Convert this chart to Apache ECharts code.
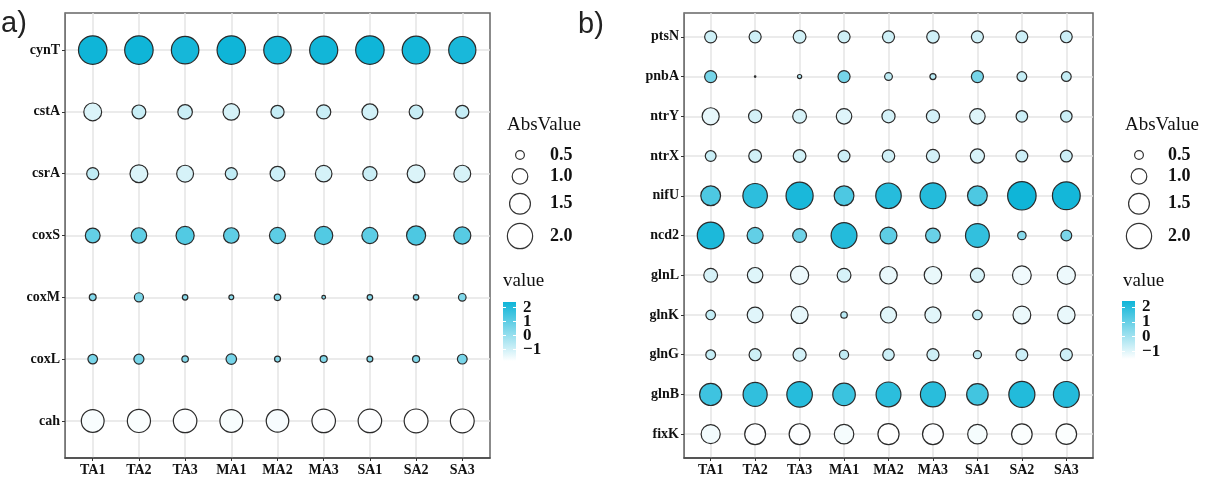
<!DOCTYPE html>
<html><head><meta charset="utf-8">
<script src="https://cdn.jsdelivr.net/npm/echarts@6/dist/echarts.min.js"></script>
<style>html,body{margin:0;padding:0;background:#fff}#c{width:1216px;height:477px}</style>
</head><body><div id="c"></div>
<script>
// ---------- data ----------
const samples = ['TA1','TA2','TA3','MA1','MA2','MA3','SA1','SA2','SA3'];

// panel a) rows, top to bottom
const genesA = ['cynT','cstA','csrA','coxS','coxM','coxL','cah'];
const cynT = [2.41, 2.41, 2.28, 2.41, 2.28, 2.36, 2.41, 2.32, 2.24];
const cstA = [-1.20, -0.85, -0.91, -1.08, -0.80, -0.88, -1.02, -0.85, -0.80];
const csrA = [-0.72, -1.20, -1.11, -0.72, -0.93, -1.08, -0.88, -1.20, -1.11];
const coxS = [0.93, 0.99, 1.23, 0.99, 1.04, 1.23, 1.04, 1.32, 1.13];
const coxM = [0.39, 0.52, 0.32, 0.29, 0.37, 0.24, 0.32, 0.32, 0.43];
const coxL = [0.55, 0.58, 0.37, 0.61, 0.34, 0.40, 0.34, 0.40, 0.56];
const cah  = [-1.71, -1.75, -1.79, -1.71, -1.68, -1.79, -1.79, -1.83, -1.83];
const valuesA = [cynT, cstA, csrA, coxS, coxM, coxL, cah];

// panel b) rows, top to bottom
const genesB = ['ptsN','pnbA','ntrY','ntrX','nifU','ncd2','glnL','glnK','glnG','glnB','fixK'];
const ptsN = [-0.72, -0.72, -0.77, -0.72, -0.72, -0.75, -0.72, -0.70, -0.70];
const pnbA = [0.72, -0.13, -0.26, 0.72, -0.44, -0.35, 0.72, -0.56, -0.56];
const ntrY = [-1.13, -0.80, -0.85, -0.99, -0.80, -0.80, -0.99, -0.68, -0.68];
const ntrX = [-0.63, -0.77, -0.77, -0.70, -0.75, -0.80, -0.88, -0.70, -0.70];
const nifU = [1.39, 1.91, 2.23, 1.39, 2.03, 2.07, 1.39, 2.41, 2.32];
const ncd2 = [2.19, 1.04, 0.85, 2.07, 1.11, 0.93, 1.83, 0.48, 0.63];
const glnL = [-0.85, -0.99, -1.23, -0.85, -1.17, -1.17, -0.88, -1.29, -1.23];
const glnK = [-0.55, -1.02, -1.13, -0.37, -1.04, -1.04, -0.55, -1.20, -1.17];
const glnG = [-0.56, -0.72, -0.80, -0.52, -0.68, -0.72, -0.46, -0.70, -0.72];
const glnB = [1.64, 1.86, 2.03, 1.68, 1.95, 1.98, 1.57, 2.10, 2.07];
const fixK = [-1.32, -1.50, -1.50, -1.36, -1.53, -1.50, -1.36, -1.47, -1.47];
const valuesB = [ptsN, pnbA, ntrY, ntrX, nifU, ncd2, glnL, glnK, glnG, glnB, fixK];

// legend breaks
const sizeBreaks = [0.5, 1.0, 1.5, 2.0];
const colorTicks = [-1, 0, 1, 2];
const lowColor = '#FFFFFF';
const highColor = '#0FB5D8';

// ---------- helpers ----------
function diam(a) { return Math.max(1.5, 23.3 * Math.sqrt(a) - 6.5 - 1.2); }
function buildData(genes, vals) {
  const out = [];
  genes.forEach((g, i) => {
    const y = genes.length - 1 - i;
    vals[i].forEach((v, j) => out.push([j, y, v]));
  });
  return out;
}
const dataA = buildData(genesA, valuesA);
const dataB = buildData(genesB, valuesB);
const flatA = valuesA.flat(), flatB = valuesB.flat();
const cminA = Math.min(...flatA), cmaxA = Math.max(...flatA);
const cminB = Math.min(...flatB), cmaxB = Math.max(...flatB);

const serif = 'Liberation Serif';
const idx = samples.map((s, i) => i);

function panelX(gi) {
  return {
    type: 'value', gridIndex: gi, min: -0.6, max: samples.length - 1 + 0.6,
    axisLine: { show: true, onZero: false, lineStyle: { color: '#444', width: 1.5 } },
    axisTick: { show: true, length: 3, customValues: idx, lineStyle: { color: '#333' } },
    axisLabel: { customValues: idx, margin: 5, hideOverlap: false, formatter: v => samples[Math.round(v)],
      fontFamily: serif, fontWeight: 'bold', fontSize: 14, color: '#111' },
    splitLine: { show: true, lineStyle: { color: '#E4E4E4', width: 1.5 } }
  };
}
function panelY(gi, genes) {
  const yi = genes.map((g, i) => i);
  return {
    type: 'value', gridIndex: gi, min: -0.6, max: genes.length - 1 + 0.6,
    axisLine: { show: true, onZero: false, lineStyle: { color: '#777', width: 1 } },
    axisTick: { show: true, length: 3, customValues: yi, lineStyle: { color: '#333' } },
    axisLabel: { customValues: yi, margin: 5, hideOverlap: false, formatter: v => genes[genes.length - 1 - Math.round(v)],
      fontFamily: serif, fontWeight: 'bold', fontSize: 14, color: '#111' },
    splitLine: { show: true, lineStyle: { color: '#E4E4E4', width: 1.5 } }
  };
}
// colour-bar axis; labels split over two axes so none are dropped for overlap
function cbarY(gi, mn, mx, pos, labelVals) {
  return {
    type: 'value', gridIndex: gi, min: mn, max: mx, position: pos,
    axisLine: { show: false, onZero: false }, splitLine: { show: false },
    axisTick: { show: true, inside: true, length: 3, customValues: colorTicks,
      lineStyle: { color: '#FFFFFF', width: 1 } },
    axisLabel: { show: !!labelVals, customValues: labelVals || colorTicks, margin: 7, hideOverlap: false,
      formatter: v => v < 0 ? '\u2212' + Math.abs(v) : String(v),
      fontFamily: serif, fontWeight: 'bold', fontSize: 17, color: '#111' }
  };
}
const labelsEven = colorTicks.filter((t, i) => i % 2 === 1);
const labelsOdd = colorTicks.filter((t, i) => i % 2 === 0);
function grad() {
  return new echarts.graphic.LinearGradient(0, 1, 0, 0, [
    { offset: 0, color: lowColor }, { offset: 1, color: highColor }
  ]);
}
function sizeLegend(titleX, cx, labelX, firstY) {
  const els = [{ type: 'text', left: titleX, top: 127 - 11,
    style: { text: 'AbsValue', font: 'normal 19px "Liberation Serif"', fill: '#111' } }];
  let y = firstY, prevK = null;
  sizeBreaks.forEach(b => {
    const d = diam(b);
    const k = d + 1.2 + 8;
    if (prevK !== null) y += (prevK + k) / 2;
    prevK = k;
    els.push({ type: 'circle', shape: { cx: cx, cy: y, r: d / 2 },
      style: { fill: '#fff', stroke: '#333', lineWidth: 1.2 } });
    els.push({ type: 'text', x: labelX, y: y,
      style: { text: b.toFixed(1), font: 'bold 18px "Liberation Serif"', fill: '#111',
        verticalAlign: 'middle', align: 'left' } });
  });
  return els;
}

const chart = echarts.init(document.getElementById('c'));
chart.setOption({
  animation: false,
  backgroundColor: '#fff',
  grid: [
    { left: 65, top: 13, width: 425, height: 450, show: true, backgroundColor: '#fff', borderColor: '#666', borderWidth: 1.5 },
    { left: 684, top: 13, width: 409, height: 449, show: true, backgroundColor: '#fff', borderColor: '#666', borderWidth: 1.5 },
    { left: 503, top: 302, width: 13, height: 59, show: true, backgroundColor: grad(), borderWidth: 0 },
    { left: 1122, top: 301, width: 13, height: 58, show: true, backgroundColor: grad(), borderWidth: 0 }
  ],
  xAxis: [
    panelX(0), panelX(1),
    { type: 'value', gridIndex: 2, show: false, min: 0, max: 1 },
    { type: 'value', gridIndex: 3, show: false, min: 0, max: 1 }
  ],
  yAxis: [
    panelY(0, genesA), panelY(1, genesB),
    cbarY(2, cminA, cmaxA, 'left', null), cbarY(2, cminA, cmaxA, 'right', labelsEven), cbarY(2, cminA, cmaxA, 'right', labelsOdd),
    cbarY(3, cminB, cmaxB, 'left', null), cbarY(3, cminB, cmaxB, 'right', labelsEven), cbarY(3, cminB, cmaxB, 'right', labelsOdd)
  ],
  visualMap: [
    { show: false, type: 'continuous', seriesIndex: 0, dimension: 2, min: cminA, max: cmaxA,
      inRange: { color: [lowColor, highColor] } },
    { show: false, type: 'continuous', seriesIndex: 1, dimension: 2, min: cminB, max: cmaxB,
      inRange: { color: [lowColor, highColor] } }
  ],
  series: [
    { type: 'scatter', xAxisIndex: 0, yAxisIndex: 0, data: dataA,
      symbolSize: v => diam(Math.abs(v[2])),
      itemStyle: { borderColor: '#2a2a2a', borderWidth: 1.2, opacity: 1 } },
    { type: 'scatter', xAxisIndex: 1, yAxisIndex: 1, data: dataB,
      symbolSize: v => diam(Math.abs(v[2])),
      itemStyle: { borderColor: '#2a2a2a', borderWidth: 1.2, opacity: 1 } }
  ],
  graphic: [
    { type: 'text', x: 1, y: 24, style: { text: 'a)', font: 'normal 29px "Liberation Sans"', fill: '#222', verticalAlign: 'middle' } },
    { type: 'text', x: 578, y: 25, style: { text: 'b)', font: 'normal 29px "Liberation Sans"', fill: '#222', verticalAlign: 'middle' } },
    ...sizeLegend(507, 520, 550, 155),
    ...sizeLegend(1125, 1139, 1168, 155),
    { type: 'text', left: 503, top: 283 - 11, style: { text: 'value', font: 'normal 19px "Liberation Serif"', fill: '#111' } },
    { type: 'text', left: 1123, top: 283 - 11, style: { text: 'value', font: 'normal 19px "Liberation Serif"', fill: '#111' } }
  ]
});
</script></body></html>
